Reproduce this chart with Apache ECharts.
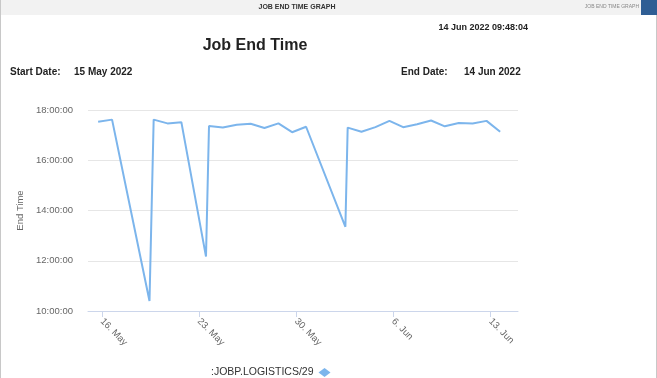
<!DOCTYPE html>
<html>
<head>
<meta charset="utf-8">
<script src="https://cdn.jsdelivr.net/npm/echarts@6/dist/echarts.min.js"></script>
<style>
  html, body { margin: 0; padding: 0; background: #fff; }
  #chart { width: 657px; height: 378px; }
</style>
</head>
<body>
<div id="chart"></div>
<script>
// job end times, one per run (local time)
const endTimes = [
  '2022-05-15 17:32', '2022-05-16 17:37', '2022-05-19 10:24', '2022-05-19 17:37',
  '2022-05-20 17:28', '2022-05-21 17:31', '2022-05-23 12:10', '2022-05-23 17:22',
  '2022-05-24 17:18', '2022-05-25 17:25', '2022-05-26 17:27', '2022-05-27 17:17',
  '2022-05-28 17:28', '2022-05-29 17:07', '2022-05-30 17:20', '2022-06-02 13:21',
  '2022-06-02 17:18', '2022-06-03 17:08', '2022-06-04 17:19', '2022-06-05 17:34',
  '2022-06-06 17:19', '2022-06-07 17:26', '2022-06-08 17:35', '2022-06-09 17:21',
  '2022-06-10 17:29', '2022-06-11 17:28', '2022-06-12 17:34', '2022-06-13 17:08'
];
const xTicks = ['2022-05-16', '2022-05-23', '2022-05-30', '2022-06-06', '2022-06-13'];
const xRange = ['2022-05-15', '2022-06-15'];
const seriesName = ':JOBP.LOGISTICS/29';
const monthNames = ['Jan', 'Feb', 'Mar', 'Apr', 'May', 'Jun', 'Jul', 'Aug', 'Sep', 'Oct', 'Nov', 'Dec'];

function toDate(s) {
  const [d, t] = s.split(' ');
  const [y, m, day] = d.split('-').map(Number);
  const [hh, mm] = (t || '00:00').split(':').map(Number);
  return new Date(y, m - 1, day, hh, mm);
}

const points = endTimes.map(s => {
  const d = toDate(s);
  return [d.getTime(), d.getHours() + d.getMinutes() / 60];
});
const tickValues = xTicks.map(s => toDate(s).getTime());

const chart = echarts.init(document.getElementById('chart'));
const bold = { fontFamily: 'Liberation Sans, Arial, sans-serif', fontWeight: 'bold', fill: '#222' };

chart.setOption({
  animation: false,
  textStyle: { fontFamily: 'Liberation Sans, Arial, sans-serif' },
  grid: { left: 88, right: 139, top: 110, bottom: 67 },
  xAxis: {
    type: 'value',
    scale: true,
    min: toDate(xRange[0]).getTime(),
    max: toDate(xRange[1]).getTime(),
    axisLine: { lineStyle: { color: '#ccd6eb' } },
    axisTick: { show: true, length: 6, customValues: tickValues, lineStyle: { color: '#ccd6eb' } },
    axisLabel: {
      customValues: tickValues,
      rotate: -45,
      color: '#666',
      fontSize: 9.5,
      margin: 9,
      formatter: v => {
        const d = new Date(v);
        return d.getDate() + '. ' + monthNames[d.getMonth()];
      }
    },
    splitLine: { show: false }
  },
  yAxis: {
    type: 'value',
    min: 10,
    max: 18,
    interval: 2,
    name: 'End Time',
    nameLocation: 'middle',
    nameRotate: 90,
    nameGap: 43,
    nameTextStyle: { color: '#666', fontSize: 9.5 },
    axisLine: { show: false },
    axisTick: { show: false },
    axisLabel: {
      color: '#666',
      fontSize: 9.5,
      margin: 15,
      formatter: v => String(v).padStart(2, '0') + ':00:00'
    },
    splitLine: { lineStyle: { color: '#e6e6e6' } }
  },
  legend: {
    left: 206,
    top: 362,
    align: 'right',
    icon: 'diamond',
    itemWidth: 12,
    itemHeight: 9,
    itemGap: 3,
    textStyle: { color: '#333', fontSize: 10.5 },
    data: [seriesName]
  },
  series: [{
    name: seriesName,
    type: 'line',
    data: points,
    showSymbol: false,
    symbol: 'diamond',
    itemStyle: { color: '#7cb5ec' },
    lineStyle: { color: '#7cb5ec', width: 2 }
  }],
  graphic: [
    { type: 'rect', shape: { x: 0, y: 0, width: 657, height: 15 }, style: { fill: '#f2f2f2' }, silent: true },
    { type: 'rect', shape: { x: 641, y: 0, width: 16, height: 15 }, style: { fill: '#2f5e94' }, silent: true },
    { type: 'line', shape: { x1: 0.5, y1: 0, x2: 0.5, y2: 378 }, style: { stroke: '#c8c8c8', lineWidth: 1 } },
    { type: 'line', shape: { x1: 656.5, y1: 15, x2: 656.5, y2: 378 }, style: { stroke: '#c8c8c8', lineWidth: 1 } },
    { type: 'text', x: 297, y: 7, style: Object.assign({}, bold, { text: 'JOB END TIME GRAPH', fontSize: 7, fill: '#333', align: 'center', verticalAlign: 'middle' }) },
    { type: 'text', x: 639, y: 7, style: { text: 'JOB END TIME GRAPH', fontSize: 5, fill: '#888', align: 'right', verticalAlign: 'middle', fontFamily: 'Liberation Sans, Arial, sans-serif' } },
    { type: 'text', x: 528, y: 28, style: Object.assign({}, bold, { text: '14 Jun 2022 09:48:04', fontSize: 9, align: 'right', verticalAlign: 'middle' }) },
    { type: 'text', x: 255, y: 46, style: Object.assign({}, bold, { text: 'Job End Time', fontSize: 16, align: 'center', verticalAlign: 'middle' }) },
    { type: 'text', x: 10, y: 72, style: Object.assign({}, bold, { text: 'Start Date:', fontSize: 10, verticalAlign: 'middle' }) },
    { type: 'text', x: 74, y: 72, style: Object.assign({}, bold, { text: '15 May 2022', fontSize: 10, verticalAlign: 'middle' }) },
    { type: 'text', x: 401, y: 72, style: Object.assign({}, bold, { text: 'End Date:', fontSize: 10, verticalAlign: 'middle' }) },
    { type: 'text', x: 464, y: 72, style: Object.assign({}, bold, { text: '14 Jun 2022', fontSize: 10, verticalAlign: 'middle' }) }
  ]
});

window.addEventListener('resize', () => chart.resize());
</script>
</body>
</html>
